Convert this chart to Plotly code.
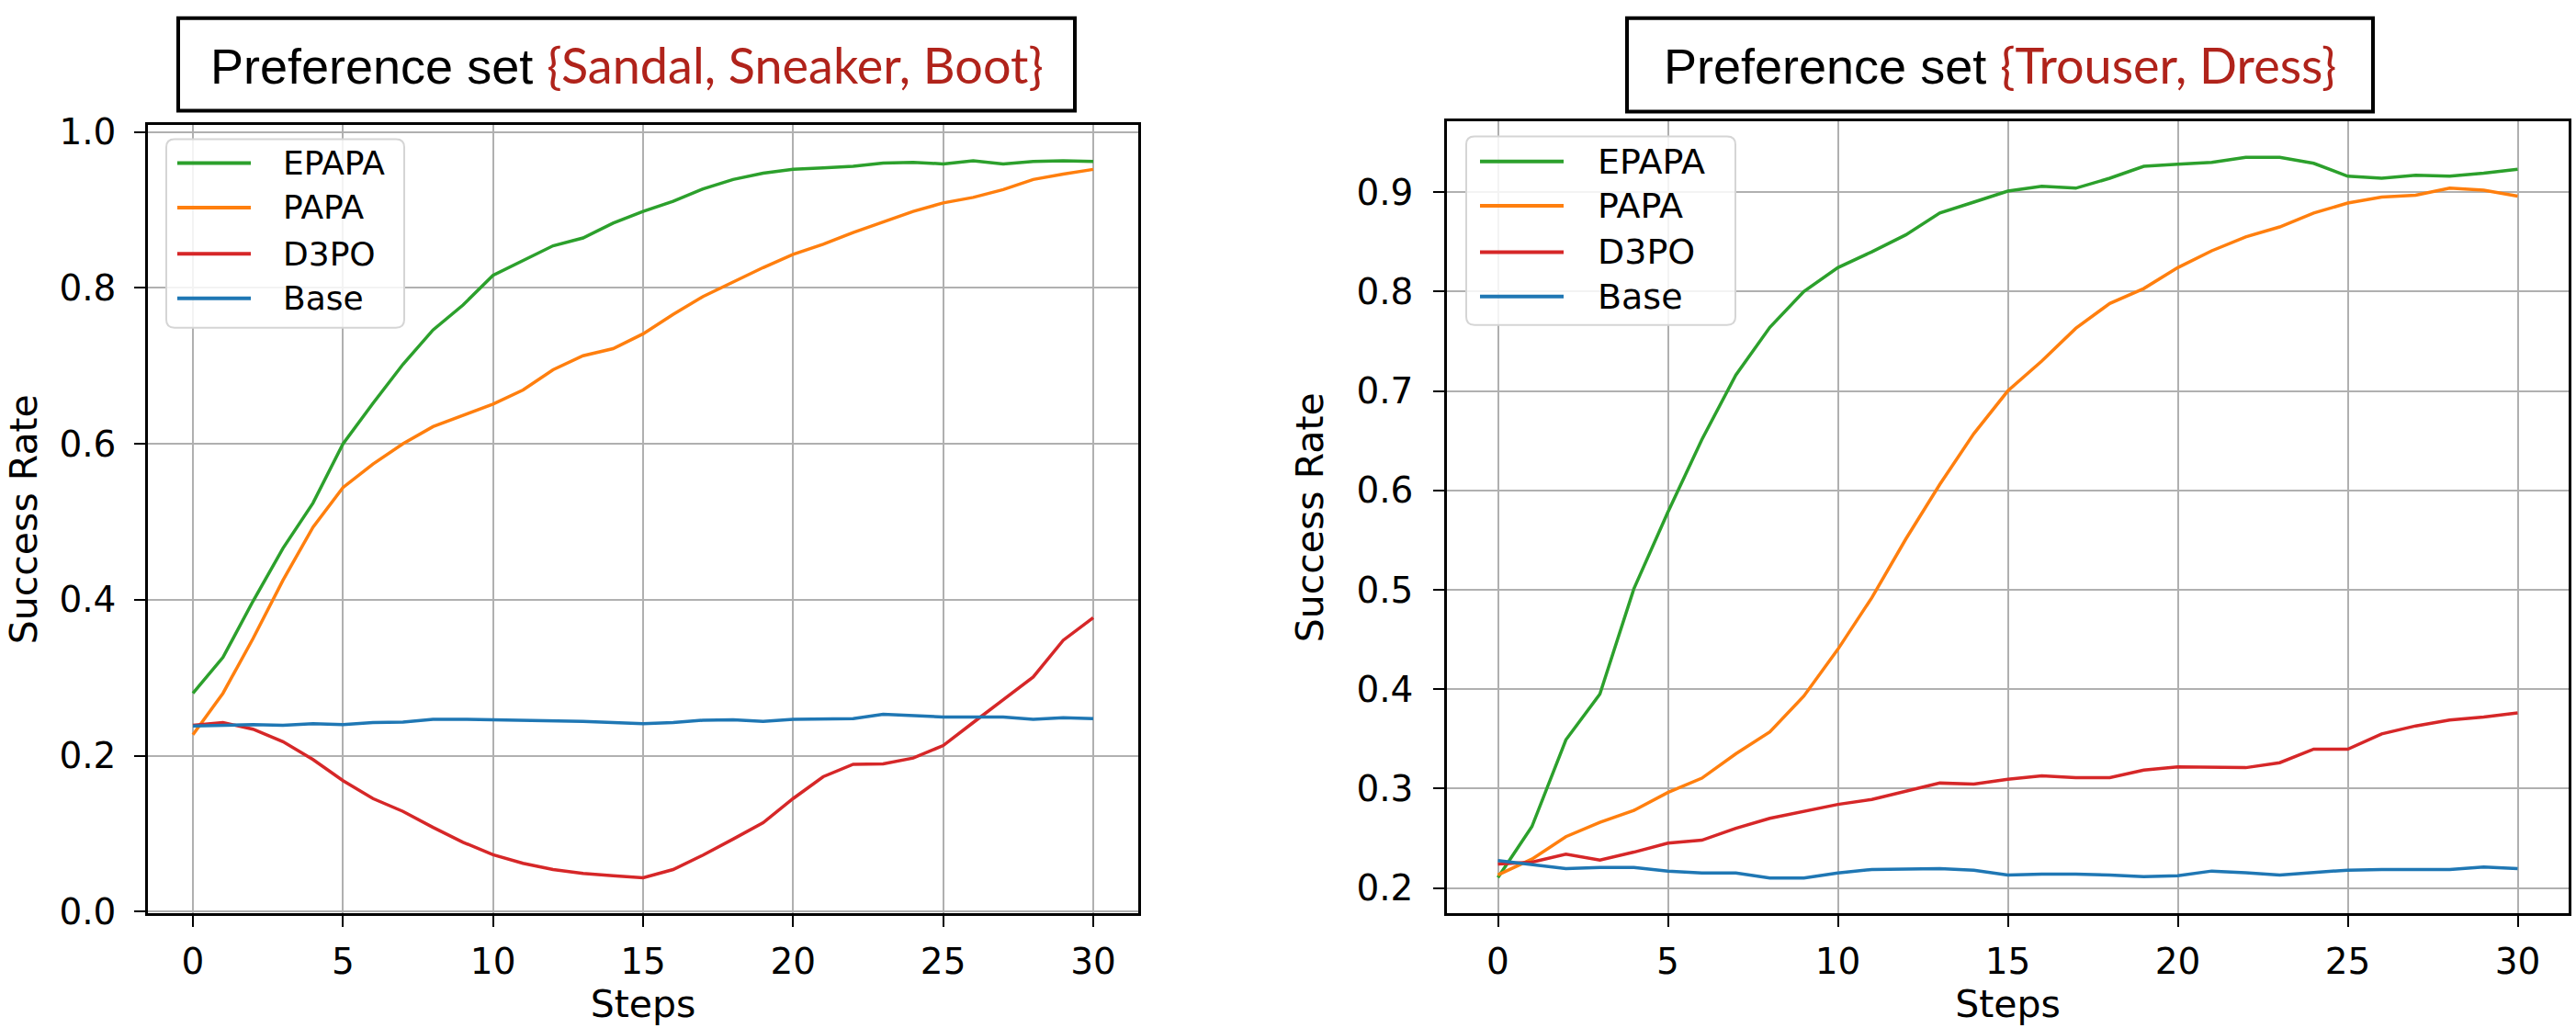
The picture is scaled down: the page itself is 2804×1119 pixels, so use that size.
import plotly.graph_objects as go

steps = list(range(31))

left_epapa = [0.280, 0.326, 0.398, 0.466, 0.524, 0.600, 0.652, 0.702, 0.746, 0.778, 0.816,
              0.835, 0.854, 0.864, 0.883, 0.898, 0.911, 0.927, 0.939, 0.947, 0.952,
              0.954, 0.956, 0.960, 0.961, 0.959, 0.963, 0.959, 0.962, 0.963, 0.962]
left_papa = [0.227, 0.280, 0.350, 0.425, 0.493, 0.544, 0.574, 0.600, 0.622, 0.637, 0.651,
             0.669, 0.695, 0.713, 0.722, 0.741, 0.766, 0.789, 0.808, 0.826, 0.843,
             0.856, 0.871, 0.885, 0.898, 0.909, 0.916, 0.926, 0.939, 0.946, 0.952]
left_d3po = [0.239, 0.2425, 0.234, 0.218, 0.195, 0.168, 0.145, 0.1285, 0.108, 0.089, 0.073,
             0.062, 0.054, 0.049, 0.046, 0.0435, 0.054, 0.0725, 0.093, 0.114, 0.145,
             0.173, 0.189, 0.1895, 0.197, 0.213, 0.2425, 0.2716, 0.301, 0.348, 0.377]
left_base = [0.238, 0.239, 0.240, 0.239, 0.241, 0.240, 0.2425, 0.243, 0.2467, 0.2467, 0.246,
             0.2455, 0.245, 0.244, 0.2425, 0.241, 0.2425, 0.2455, 0.246, 0.244, 0.2467,
             0.2475, 0.2475, 0.253, 0.251, 0.2496, 0.2496, 0.2496, 0.2467, 0.2488, 0.2475]

right_epapa = [0.2104, 0.2617, 0.349, 0.395, 0.501, 0.578, 0.651, 0.716, 0.764, 0.800, 0.824,
               0.840, 0.857, 0.879, 0.890, 0.901, 0.906, 0.904, 0.914, 0.926, 0.928,
               0.930, 0.935, 0.935, 0.929, 0.916, 0.914, 0.917, 0.916, 0.919, 0.923]
right_papa = [0.213, 0.229, 0.2516, 0.266, 0.278, 0.296, 0.3104, 0.335, 0.357, 0.393, 0.440,
              0.492, 0.551, 0.606, 0.657, 0.700, 0.730, 0.763, 0.788, 0.803, 0.824,
              0.841, 0.855, 0.865, 0.879, 0.889, 0.895, 0.897, 0.904, 0.902, 0.896]
right_d3po = [0.224, 0.226, 0.234, 0.228, 0.236, 0.245, 0.248, 0.260, 0.270, 0.277, 0.284,
              0.289, 0.297, 0.3055, 0.3045, 0.3094, 0.3127, 0.311, 0.311, 0.3185, 0.3218,
              0.321, 0.321, 0.326, 0.3396, 0.3396, 0.355, 0.363, 0.369, 0.372, 0.376]
right_base = [0.2276, 0.2234, 0.2195, 0.2205, 0.2205, 0.217, 0.215, 0.215, 0.210, 0.210, 0.215,
              0.2185, 0.219, 0.2195, 0.2179, 0.213, 0.214, 0.214, 0.213, 0.2114, 0.2123,
              0.217, 0.2153, 0.213, 0.2156, 0.2179, 0.2185, 0.2188, 0.2185, 0.2211, 0.2195]

series_names = ["EPAPA", "PAPA", "D3PO", "Base"]
series_colors = ["#2ca02c", "#ff7f0e", "#d62728", "#1f77b4"]
left_titles = ("Preference set ", "{Sandal, Sneaker, Boot}")
right_titles = ("Preference set ", "{Trouser, Dress}")
x_ticks = [0, 5, 10, 15, 20, 25, 30]
left_yticks = [0.0, 0.2, 0.4, 0.6, 0.8, 1.0]
right_yticks = [0.2, 0.3, 0.4, 0.5, 0.6, 0.7, 0.8, 0.9]

W, H = 2804, 1119
def fx(p):
    return p / W
def fy(p):
    return 1 - p / H

fig = go.Figure()
for vals, name, col in zip([left_epapa, left_papa, left_d3po, left_base], series_names, series_colors):
    fig.add_trace(go.Scatter(x=steps, y=vals, mode="lines", name=name, showlegend=False,
                             line=dict(color=col, width=3.5), xaxis="x", yaxis="y"))
for vals, name, col in zip([right_epapa, right_papa, right_d3po, right_base], series_names, series_colors):
    fig.add_trace(go.Scatter(x=steps, y=vals, mode="lines", name=name, showlegend=False,
                             line=dict(color=col, width=3.5), xaxis="x2", yaxis="y2"))

tickfont = dict(family="DejaVu Sans", size=39, color="black")
titlefont = dict(family="DejaVu Sans", size=41, color="black")
axis_common = dict(showgrid=True, gridcolor="#b0b0b0", gridwidth=2, showline=True, mirror=True,
                   linecolor="black", linewidth=2.5, ticks="outside", ticklen=12, tickwidth=2,
                   tickcolor="black", tickfont=tickfont, zeroline=False)

fig.update_layout(
    width=W, height=H, margin=dict(l=0, r=0, t=0, b=0),
    paper_bgcolor="white", plot_bgcolor="white", showlegend=False,
    xaxis=dict(domain=[fx(161), fx(1239)], range=[-1.5, 31.5], tickvals=x_ticks, anchor="y",
               ticklabelstandoff=4,
               title=dict(text="Steps", font=titlefont, standoff=4), **axis_common),
    yaxis=dict(domain=[fy(1012), fy(125)], range=[-0.0025, 1.009], tickvals=left_yticks,
               tickformat=".1f", anchor="x", ticklabelstandoff=12,
               title=dict(text="Success Rate", font=titlefont, standoff=12), **axis_common),
    xaxis2=dict(domain=[fx(1575), fx(2796)], range=[-1.5, 31.5], tickvals=x_ticks, anchor="y2",
                ticklabelstandoff=4,
                title=dict(text="Steps", font=titlefont, standoff=4), **axis_common),
    yaxis2=dict(domain=[fy(1012), fy(121)], range=[0.1742, 0.9712], tickvals=right_yticks,
                tickformat=".1f", anchor="x2", ticklabelstandoff=14,
                title=dict(text="Success Rate", font=titlefont, standoff=24), **axis_common),
)

red = "#b0231b"
for (x0, x1, y0, y1), (t1, t2) in [((194, 1170, 5, 109), left_titles), ((1771, 2583, 5, 110), right_titles)]:
    fig.add_shape(type="rect", xref="paper", yref="paper", x0=fx(x0), x1=fx(x1), y0=fy(y1), y1=fy(y0),
                  line=dict(color="black", width=4), fillcolor="white")
    fig.add_annotation(xref="paper", yref="paper", x=fx((x0 + x1) / 2), y=fy((y0 + y1) / 2),
                       xanchor="center", yanchor="middle", showarrow=False,
                       text=t1 + '<span style="font-family:Lato;color:' + red + '">' + t2 + "</span>",
                       font=dict(family="Liberation Sans", size=54, color="black"))

# legends (drawn as shapes + text)
def rounded_rect(x0, y0, x1, y1, r):
    pts = [("M", x0 + r, y0), ("L", x1 - r, y0), ("Q", x1, y0, x1, y0 + r), ("L", x1, y1 - r),
           ("Q", x1, y1, x1 - r, y1), ("L", x0 + r, y1), ("Q", x0, y1, x0, y1 - r),
           ("L", x0, y0 + r), ("Q", x0, y0, x0 + r, y0)]
    out = ""
    for p in pts:
        cmd = p[0]
        coords = p[1:]
        s = []
        for i in range(0, len(coords), 2):
            s.append("%.6f,%.6f" % (fx(coords[i]), fy(coords[i + 1])))
        out += cmd + " ".join(s) + " "
    return out + "Z"

legend_specs = [
    dict(box=(181, 141, 440, 353), rows=[168, 218, 270, 320], line=(193, 273), text_x=306, size=36),
    dict(box=(1596, 138, 1889, 350), rows=[166, 216, 268, 318], line=(1611, 1702), text_x=1737, size=38),
]
for spec in legend_specs:
    bx0, by0, bx1, by1 = spec["box"]
    fig.add_shape(type="path", xref="paper", yref="paper", path=rounded_rect(bx0, by0, bx1, by1, 9),
                  line=dict(color="#d5d5d5", width=2), fillcolor="rgba(255,255,255,0.85)", layer="above")
    for yrow, name, col in zip(spec["rows"], series_names, series_colors):
        fig.add_shape(type="line", xref="paper", yref="paper", x0=fx(spec["line"][0]), x1=fx(spec["line"][1]),
                      y0=fy(yrow), y1=fy(yrow), line=dict(color=col, width=4), layer="above")
        fig.add_annotation(xref="paper", yref="paper", x=fx(spec["text_x"]), y=fy(yrow),
                           xanchor="left", yanchor="middle", showarrow=False, text=name,
                           font=dict(family="DejaVu Sans", size=spec["size"], color="black"))

fig.write_html("out.html")
